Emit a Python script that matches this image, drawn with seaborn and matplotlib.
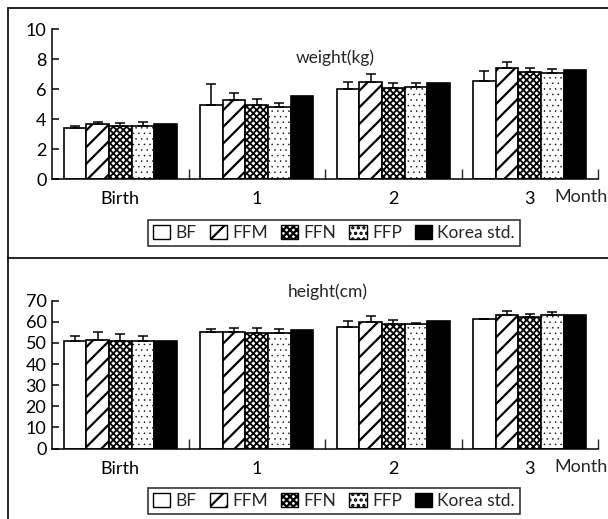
import matplotlib
matplotlib.use("Agg")
import matplotlib.pyplot as plt
import seaborn as sns
import pandas as pd
import numpy as np
from matplotlib.patches import Patch
from matplotlib.lines import Line2D

sns.set_theme(style="white")
plt.rcParams['font.family'] = ['Lato', 'DejaVu Sans']
plt.rcParams['hatch.linewidth'] = 1.6

categories = ["Birth", "1", "2", "3"]
series = ["BF", "FFM", "FFN", "FFP", "Korea std."]

weight_BF = [3.4, 4.93, 5.98, 6.56]
weight_FFM = [3.65, 5.29, 6.49, 7.42]
weight_FFN = [3.56, 4.93, 6.04, 7.15]
weight_FFP = [3.56, 4.78, 6.16, 7.04]
weight_KOR = [3.67, 5.53, 6.42, 7.27]
weight_err_BF = [0.16, 1.40, 0.49, 0.66]
weight_err_FFM = [0.18, 0.42, 0.49, 0.40]
weight_err_FFN = [0.15, 0.38, 0.38, 0.27]
weight_err_FFP = [0.27, 0.31, 0.22, 0.27]

height_BF = [50.8, 55.2, 57.7, 61.1]
height_FFM = [51.5, 55.2, 60.0, 63.0]
height_FFN = [50.8, 54.8, 58.8, 62.2]
height_FFP = [50.8, 54.8, 59.1, 63.0]
height_KOR = [51.1, 56.1, 60.3, 63.0]
height_err_BF = [2.3, 1.5, 2.6, 0.0]
height_err_FFM = [3.8, 2.0, 2.8, 2.0]
height_err_FFN = [3.6, 2.4, 1.9, 1.7]
height_err_FFP = [2.3, 1.9, 0.3, 1.5]

styles = {
    "BF": dict(facecolor="white", hatch=None, hlw=None),
    "FFM": dict(facecolor="white", hatch="//", hlw=1.6),
    "FFN": dict(facecolor="white", hatch="xxxxx", hlw=1.3),
    "FFP": dict(facecolor="white", hatch="...", hlw=0.3),
    "Korea std.": dict(facecolor="black", hatch=None, hlw=None),
}


def style_patch(p, st):
    p.set_facecolor(st["facecolor"])
    p.set_edgecolor("black")
    if st["hatch"]:
        p.set_hatch(st["hatch"])
        if st["hlw"] is not None and hasattr(p, "set_hatch_linewidth"):
            p.set_hatch_linewidth(st["hlw"])
        if st["hatch"].startswith(".") and hasattr(p, "set_hatchcolor"):
            p.set_hatchcolor("#777777")


def make_df(vals, errs):
    rows = []
    for s, v, e in zip(series, vals, errs):
        for c, vv, ee in zip(categories, v, e):
            rows.append(dict(period=c, group=s, value=vv, err=ee))
    return pd.DataFrame(rows)


fig = plt.figure(figsize=(6.08, 5.19), dpi=100)

W, H = 608, 519


def panel(rect, df, ylim, yticks, title, title_xy, label_y, legend_y):
    ax = fig.add_axes(rect)
    sns.barplot(data=df, x="period", y="value", hue="group", order=categories,
                hue_order=series, width=0.83, ax=ax, legend=False,
                errorbar=None, linewidth=1.2, edgecolor="black")
    for s, cont in zip(series, ax.containers):
        st = styles[s]
        sub = df[df.group == s].set_index("period").loc[categories]
        xs, tops = [], []
        for p in cont.patches:
            style_patch(p, st)
            xs.append(p.get_x() + p.get_width() / 2)
            tops.append(p.get_height())
        errs = sub["err"].values
        if np.any(errs > 0):
            ax.errorbar(xs, tops, yerr=[np.zeros(len(errs)), errs], fmt="none",
                        ecolor="black", elinewidth=1.1, capsize=3.5, capthick=1.1)
    ax.set_xlim(-0.5, 3.5)
    ax.set_ylim(*ylim)
    ax.set_yticks(yticks)
    ax.set_xlabel("")
    ax.set_ylabel("")
    for sp in ["top", "right"]:
        ax.spines[sp].set_visible(False)
    for sp in ["left", "bottom"]:
        ax.spines[sp].set_color("black")
        ax.spines[sp].set_linewidth(1.1)
    ax.tick_params(axis="y", direction="in", length=5, width=1.1, labelsize=13,
                   pad=4, left=True, colors="black")
    ax.tick_params(axis="x", length=0, labelsize=13, pad=9, colors="black")
    ax.set_xticks(range(4), categories)
    ax.set_xticks([0.5, 1.5, 2.5, 3.5], minor=True)
    ax.tick_params(axis="x", which="minor", direction="in", length=7, width=1.0,
                   bottom=True)
    ax.text(title_xy[0], title_xy[1], title, transform=ax.transAxes,
            ha="center", va="center", fontsize=12.5)
    ax.text(581 / W, label_y, "Month", transform=fig.transFigure,
            ha="center", va="center", fontsize=13)
    handles = []
    for s in series:
        h = Patch(facecolor=styles[s]["facecolor"], edgecolor="black",
                  linewidth=1.0, label=s)
        style_patch(h, styles[s])
        handles.append(h)
    leg = fig.legend(handles=handles, loc="center", ncol=5,
                     bbox_to_anchor=(334 / W, legend_y), fontsize=12.5,
                     frameon=True, fancybox=False, edgecolor="black",
                     handlelength=1.0, handleheight=0.85, handletextpad=0.3,
                     columnspacing=0.75, borderpad=0.3, borderaxespad=0)
    leg.get_frame().set_linewidth(1.2)
    return ax


dfw = make_df([weight_BF, weight_FFM, weight_FFN, weight_FFP, weight_KOR],
              [weight_err_BF, weight_err_FFM, weight_err_FFN, weight_err_FFP,
               [0, 0, 0, 0]])
dfh = make_df([height_BF, height_FFM, height_FFN, height_FFP, height_KOR],
              [height_err_BF, height_err_FFM, height_err_FFN, height_err_FFP,
               [0, 0, 0, 0]])

panel([52 / W, 1 - 179 / H, 546 / W, 150 / H], dfw, (0, 10), range(0, 11, 2),
      "weight(kg)", (0.518, 0.807), 1 - 197 / H, 1 - 233 / H)
panel([52 / W, 1 - 448.5 / H, 546 / W, 147.8 / H], dfh, (0, 70), range(0, 71, 10),
      "height(cm)", (0.505, 1.06), 1 - 467 / H, 1 - 501 / H)

# outer frame lines
fig.add_artist(Line2D([8 / W, 8 / W], [0, 1 - 8 / H], transform=fig.transFigure,
                      color="black", lw=1.2))
fig.add_artist(Line2D([8 / W, 1], [1 - 8 / H, 1 - 8 / H], transform=fig.transFigure,
                      color="black", lw=1.2))
fig.add_artist(Line2D([8 / W, 1], [1 - 258 / H, 1 - 258 / H], transform=fig.transFigure,
                      color="black", lw=1.2))

fig.savefig("out.png", dpi=100)
